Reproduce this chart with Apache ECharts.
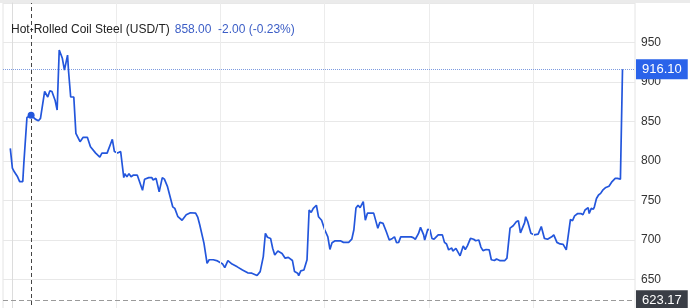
<!DOCTYPE html>
<html>
<head>
<meta charset="utf-8">
<script src="https://cdn.jsdelivr.net/npm/echarts@6/dist/echarts.min.js"></script>
<style>
html,body{margin:0;padding:0;background:#fff;}
#c{width:690px;height:308px;}
</style>
</head>
<body>
<div id="c"></div>
<script>
// ---- data ----
const seriesName = 'Hot-Rolled Coil Steel (USD/T)';
const headerPrice = 858.00;
const headerChange = -2.00;
const headerPct = -0.23;

// time index (trading periods) and price values
const t = [-2,0,2,5,7,10,11,14,18,22,25,27,31,34,36,38,41,43,45,48,50,53,54,56,59,61,65,68,72,75,80,84,86,91,96,98,101,104,107,108,110,112,114,116,120,121,125,127,131,132,134,135,138,141,144,146,149,154,156,159,163,167,171,176,178,180,184,187,189,193,197,202,204,207,211,216,221,226,230,235,238,241,243,245,248,250,252,255,259,262,265,269,271,274,275,277,280,283,285,287,289,292,294,297,300,303,305,307,310,315,318,323,326,328,330,332,334,337,339,341,347,349,351,353,356,359,362,365,367,369,371,373,377,383,385,387,390,392,395,396,399,401,403,405,409,413,415,417,419,420,422,423,426,430,433,435,437,440,443,445,448,450,452,455,458,460,463,465,468,473,475,478,481,484,486,488,492,493,495,498,501,505,508,511,514,518,520,523,526,529,532,536,538,540,543,546,548,550,553,554,556,558,559,561,563,565,567,570,573,576,579,581,584,586];
const price = [816,791,786,780,774,774,797,855,858,853,851,854,888,881,889,888,877,864.5,940.5,930,915,934,913,881,881,835,824.5,830,830,818,810,805,810,810,827.5,812,810,812,779,784,780,784,780,782,782,783.5,763,777,779,777,779,776,778,761,779,777,767.5,742,740,729.5,725,732,734.5,734,729,719,696,670.5,675,675,673.5,669.5,665,674,669.5,666,662,658.5,658,655,660,679,708.5,703.5,702,689.5,681,686,683,677,678,674,660,658,655,661,662,675,738,735,740,744,729.5,725,713,704,688,696.5,699,699,697,697,701,713,740.5,744,741,748.5,725,734,734,724.5,715,722.5,721,711,700,702,704,696.5,697,704,704,704,703,701,708,716,706.5,700,713.5,713,702,701,706.5,706.5,697,695,687.5,685,690,686,689.5,680,692.5,688,692.5,702,701,699,700,691,686.5,688,687.5,675,674,676,674,674,677,715,718,723,724.5,709,722,729.5,723,708.5,706.5,707.5,717,702,701,704,706.5,697,695,694.5,687.5,726,724.5,730.5,733.5,733.5,732,738,741,733.5,740,739,742,752.5,757,759,763,766.5,768,774,778,778,777,916.1];

const periodTicks = [100, 200, 300, 400, 500];
const yTicks = {min: 600, max: 1000, step: 50};
const crossT = 18;
const crossPrice = 858.00;
const lastPrice = 916.10;
const lowPrice = 623.17;

// ---- chart ----
const chart = echarts.init(document.getElementById('c'), null, {renderer: 'canvas'});
const FONT = '"Liberation Sans", Arial, sans-serif';
const lineData = t.map((d, i) => [d, price[i]]);

const sign = v => (v > 0 ? '+' : '') + v.toFixed(2);

chart.setOption({
  animation: false,
  backgroundColor: '#fff',
  textStyle: {fontFamily: FONT},
  title: {
    left: 11, top: 21, padding: 0,
    text: '{a|' + seriesName + '} {b|' + headerPrice.toFixed(2) + '  ' + sign(headerChange) + ' (' + sign(headerPct) + '%)}',
    textStyle: {
      fontWeight: 'normal',
      rich: {
        a: {color: '#222', fontSize: 12, fontWeight: 'normal', fontFamily: FONT},
        b: {color: '#3c5ec6', fontSize: 12, fontWeight: 'normal', fontFamily: FONT}
      }
    }
  },
  graphic: [{
    type: 'rect', left: 0, top: 0, shape: {width: 690, height: 3},
    style: {fill: '#ebebeb'}, silent: true
  }],
  grid: {
    left: 3, top: 3, width: 632, height: 316,
    containLabel: false, outerBoundsMode: 'none',
    show: true, borderColor: '#e4e4e4', borderWidth: 1
  },
  xAxis: {
    type: 'value', min: -9, max: 598,
    axisLine: {show: false}, axisTick: {show: false},
    axisLabel: {show: false}, splitLine: {show: false}
  },
  yAxis: {
    type: 'value', position: 'right',
    min: yTicks.min, max: yTicks.max, interval: yTicks.step,
    axisLine: {show: true, lineStyle: {color: '#dcdcdc'}},
    axisTick: {show: false},
    axisLabel: {color: '#333', fontSize: 12, margin: 6, fontFamily: FONT, showMaxLabel: false},
    splitLine: {show: true, lineStyle: {color: '#e8e8e8', width: 1}}
  },
  series: [
    {
      type: 'line', data: [], z: 1, silent: true,
      markLine: {
        silent: true, symbol: ['none', 'none'], animation: false,
        label: {show: false},
        lineStyle: {color: '#ececec', type: 'solid', width: 1},
        data: periodTicks.map(v => ({xAxis: v}))
      }
    },
    {
      type: 'line', data: lineData, z: 3,
      showSymbol: false, symbol: 'none',
      lineStyle: {color: '#2356dc', width: 1.7},
      markLine: {
        silent: true, symbol: ['none', 'none'], animation: false,
        data: [
          {xAxis: crossT, lineStyle: {color: '#444', type: [4, 3], width: 1}, label: {show: false}},
          {yAxis: lowPrice, lineStyle: {color: '#9a9a9a', type: [5, 3], width: 1.2},
            label: {show: true, position: 'end', distance: 1, formatter: lowPrice.toFixed(2),
              backgroundColor: '#3a3e46', color: '#fff', fontSize: 13, padding: [4, 6, 4, 6], fontFamily: FONT}},
          {yAxis: lastPrice, lineStyle: {color: '#7d9be0', type: 'dotted', width: 1},
            label: {show: true, position: 'end', distance: 1, formatter: lastPrice.toFixed(2),
              backgroundColor: '#2a63ea', color: '#fff', fontSize: 13, padding: [4, 6, 3, 6], fontFamily: FONT}}
        ]
      },
      markPoint: {
        silent: true, animation: false,
        symbol: 'circle', symbolSize: 7,
        itemStyle: {color: '#2356dc'},
        label: {show: false},
        data: [{coord: [crossT, crossPrice]}]
      }
    }
  ]
});
</script>
</body>
</html>
